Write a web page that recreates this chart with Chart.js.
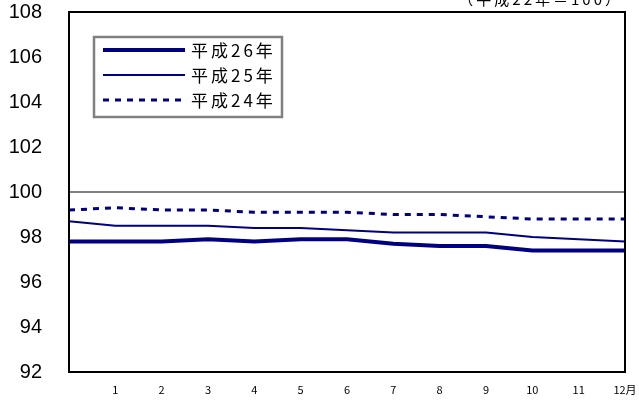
<!DOCTYPE html>
<html lang="ja">
<head>
<meta charset="utf-8">
<title>消費者物価指数の推移</title>
<script src="https://cdn.jsdelivr.net/npm/chart.js@4/dist/chart.umd.min.js"></script>
<style>
    html, body { margin: 0; padding: 0; background: #fff; }
    #wrap { position: relative; width: 639px; height: 408px; }
</style>
</head>
<body>
<div id="wrap"><canvas id="indexChart"></canvas></div>
<script>
// Chart data (平成22年＝100)
const monthLabels = ["", "1", "2", "3", "4", "5", "6", "7", "8", "9", "10", "11", "12月"];
const h26Values = [97.8, 97.8, 97.8, 97.9, 97.8, 97.9, 97.9, 97.7, 97.6, 97.6, 97.4, 97.4, 97.4];
const h25Values = [98.7, 98.5, 98.5, 98.5, 98.4, 98.4, 98.3, 98.2, 98.2, 98.2, 98.0, 97.9, 97.8];
const h24Values = [99.2, 99.3, 99.2, 99.2, 99.1, 99.1, 99.1, 99.0, 99.0, 98.9, 98.8, 98.8, 98.8];
const seriesNames = ["平成26年", "平成25年", "平成24年"];
const yMin = 92;
const yMax = 108;
const yStep = 2;
const baseNote = "（平成22年＝100）";

const NAVY = "#000080";
const CJK_FONT = "'Noto Sans CJK JP', 'Noto Sans', sans-serif";

document.addEventListener("DOMContentLoaded", function () {
    initIndexChart();
});

// draws the black frame round the plot area
const framePlugin = {
    id: "frame",
    afterDatasetsDraw(chart) {
        const a = chart.chartArea;
        const ctx = chart.ctx;
        ctx.save();
        ctx.strokeStyle = "#000";
        ctx.lineWidth = 2;
        ctx.strokeRect(a.left, a.top, a.right - a.left, a.bottom - a.top);
        ctx.restore();
    },
};

// legend box inside the plot area, like the original
const boxLegendPlugin = {
    id: "boxLegend",
    afterDraw(chart) {
        const a = chart.chartArea;
        const ctx = chart.ctx;
        const x = a.left + 25;
        const y = a.top + 25;
        const w = 188;
        const h = 80;

        ctx.save();
        ctx.fillStyle = "#fff";
        ctx.fillRect(x, y, w, h);
        ctx.strokeStyle = "#808080";
        ctx.lineWidth = 2.5;
        ctx.strokeRect(x, y, w, h);

        chart.data.datasets.forEach((ds, i) => {
            const rowY = y + 13 + i * 25;
            ctx.beginPath();
            ctx.strokeStyle = ds.borderColor;
            ctx.lineWidth = ds.borderWidth;
            ctx.setLineDash(ds.borderDash || []);
            ctx.moveTo(x + 9, rowY);
            ctx.lineTo(x + 91, rowY);
            ctx.stroke();
            ctx.setLineDash([]);

            ctx.fillStyle = "#000";
            ctx.font = "17px " + CJK_FONT;
            ctx.letterSpacing = "3px";
            ctx.textAlign = "left";
            ctx.textBaseline = "middle";
            ctx.fillText(ds.label, x + 97, rowY + 1);
        });
        ctx.restore();
    },
};

// base year note, half cut off at the top edge
const notePlugin = {
    id: "note",
    afterDraw(chart) {
        const ctx = chart.ctx;
        ctx.save();
        ctx.fillStyle = "#000";
        ctx.font = "15px " + CJK_FONT;
        ctx.letterSpacing = "3px";
        ctx.textAlign = "right";
        ctx.textBaseline = "alphabetic";
        ctx.fillText(baseNote, 623, 5);
        ctx.restore();
    },
};

function initIndexChart() {
    const ctx = document.getElementById("indexChart");
    if (!ctx) return;

    new Chart(ctx.getContext("2d"), {
        type: "line",
        data: {
            labels: monthLabels,
            datasets: [
                {
                    label: seriesNames[0],
                    data: h26Values,
                    borderColor: NAVY,
                    borderWidth: 4,
                    pointRadius: 0,
                    tension: 0,
                },
                {
                    label: seriesNames[1],
                    data: h25Values,
                    borderColor: NAVY,
                    borderWidth: 2,
                    pointRadius: 0,
                    tension: 0,
                },
                {
                    label: seriesNames[2],
                    data: h24Values,
                    borderColor: NAVY,
                    borderWidth: 3,
                    borderDash: [6, 6],
                    pointRadius: 0,
                    tension: 0,
                },
            ],
        },
        options: {
            responsive: true,
            maintainAspectRatio: false,
            animation: false,
            layout: {
                padding: { left: 0, right: 14, top: 12, bottom: 0 },
            },
            scales: {
                x: {
                    offset: false,
                    grid: { display: false, drawTicks: false },
                    border: { display: false },
                    ticks: {
                        color: "#000",
                        padding: 11,
                        maxRotation: 0,
                        autoSkip: false,
                        font: { family: CJK_FONT, size: 11 },
                    },
                    afterFit(scale) {
                        scale.height = 36;
                        scale.paddingLeft = 0;
                        scale.paddingRight = 0;
                    },
                },
                y: {
                    min: yMin,
                    max: yMax,
                    grid: {
                        drawTicks: false,
                        lineWidth: 2,
                        color: function (c) {
                            return c.tick && c.tick.value === 100 ? "#808080" : "rgba(0,0,0,0)";
                        },
                    },
                    border: { display: false },
                    ticks: {
                        stepSize: yStep,
                        color: "#000",
                        padding: 27,
                        font: { family: "'Liberation Sans', Arial, sans-serif", size: 20 },
                    },
                    afterFit(scale) {
                        scale.width = 69;
                        scale.paddingTop = 0;
                        scale.paddingBottom = 0;
                    },
                },
            },
            plugins: {
                legend: { display: false },
                tooltip: { enabled: false },
            },
        },
        plugins: [framePlugin, boxLegendPlugin, notePlugin],
    });
}
</script>
</body>
</html>
